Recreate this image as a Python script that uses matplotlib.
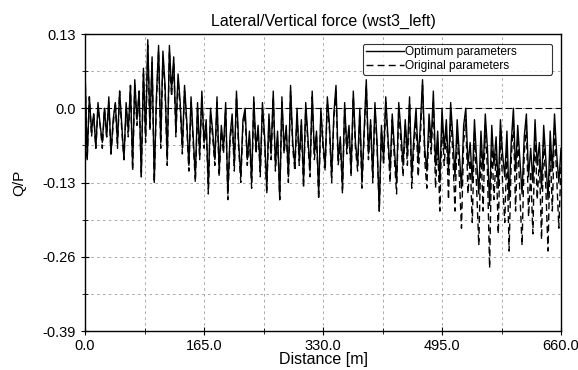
import matplotlib
matplotlib.use('Agg')
import matplotlib.pyplot as plt
import numpy as np
from matplotlib.ticker import MultipleLocator

plt.rcParams['font.family'] = ['Liberation Sans', 'DejaVu Sans']

q_opt = [0.07, -0.09, 0.02, -0.04, -0.01, -0.07, 0.01, -0.03, -0.06, 0.00,
         -0.05, 0.02, -0.08, -0.02, 0.01, -0.06, 0.03, -0.03, -0.09, 0.01,
         -0.04, 0.04, -0.10, 0.05, -0.02, 0.03, -0.12, 0.07, -0.05, 0.12,
         -0.03, 0.09, -0.13, 0.02, 0.11, -0.06, 0.10, 0.04, -0.09, 0.11,
         0.03, 0.09, -0.04, 0.06, 0.01, -0.07, 0.04, -0.02, -0.10, 0.02,
         -0.05, -0.12, 0.01, -0.08, 0.03, -0.06, -0.02, -0.14, 0.00, -0.04,
         -0.09, 0.02, -0.11, -0.03, -0.07, 0.01, -0.15, -0.05, -0.01, -0.10,
         0.03, -0.06, -0.12, -0.02, 0.00, -0.09, -0.04, -0.13, 0.02, -0.07,
         -0.03, -0.11, 0.01, -0.05, -0.14, -0.01, -0.08, 0.03, -0.10, -0.04,
         -0.16, 0.02, -0.07, -0.03, -0.12, 0.04, -0.06, -0.10, 0.00, -0.09,
         -0.02, -0.13, 0.01, -0.05, -0.11, 0.03, -0.08, -0.04, -0.15, 0.00,
         -0.06, -0.10, 0.02, -0.03, -0.12, -0.01, 0.04, -0.09, -0.05, -0.14,
         0.01, -0.07, -0.03, -0.11, 0.03, -0.06, -0.10, 0.00, -0.13, -0.04,
         0.05, -0.08, -0.02, -0.12, 0.01, -0.06, -0.18, -0.03, -0.09, 0.02,
         -0.05, -0.11, -0.01, -0.07, -0.13, 0.01, -0.04, -0.10, -0.02, -0.08,
         0.02, -0.12, -0.05, 0.00, -0.09, -0.03, 0.05, -0.07, -0.11, -0.01,
         -0.06, 0.03, -0.10, -0.04, -0.13, 0.00, -0.07, -0.02, -0.11, 0.01,
         -0.05, -0.12, -0.02, -0.08, -0.14, -0.03, 0.00, -0.10, -0.06, -0.13,
         -0.02, -0.09, -0.15, -0.04, -0.11, -0.01, -0.07, -0.17, -0.03, -0.10,
         -0.05, -0.14, -0.02, -0.08, -0.12, -0.04, -0.16, -0.06, 0.00, -0.11,
         -0.03, -0.09, -0.15, -0.05, -0.01, -0.12, -0.07, -0.13, -0.02, -0.10,
         -0.06, -0.14, -0.03, -0.09, -0.16, -0.04, -0.11, -0.01, -0.08, -0.13,
         -0.07]

q_ori = [0.06, -0.09, 0.02, -0.05, -0.01, -0.07, 0.00, -0.03, -0.07, 0.00,
         -0.05, 0.01, -0.08, -0.03, 0.01, -0.07, 0.03, -0.04, -0.09, 0.00,
         -0.05, 0.04, -0.11, 0.04, -0.03, 0.03, -0.12, 0.06, -0.06, 0.11,
         -0.04, 0.08, -0.13, 0.01, 0.10, -0.07, 0.09, 0.03, -0.10, 0.10,
         0.02, 0.08, -0.05, 0.05, 0.00, -0.08, 0.03, -0.03, -0.11, 0.01,
         -0.06, -0.13, 0.00, -0.09, 0.02, -0.07, -0.03, -0.15, -0.01, -0.05,
         -0.10, 0.01, -0.12, -0.04, -0.08, 0.00, -0.16, -0.06, -0.02, -0.11,
         0.02, -0.07, -0.13, -0.03, -0.01, -0.10, -0.05, -0.14, 0.01, -0.08,
         -0.04, -0.12, 0.00, -0.06, -0.15, -0.02, -0.09, 0.02, -0.11, -0.05,
         -0.16, 0.01, -0.08, -0.04, -0.13, 0.03, -0.07, -0.11, -0.01, -0.10,
         -0.03, -0.14, 0.00, -0.06, -0.12, 0.02, -0.09, -0.05, -0.16, -0.01,
         -0.07, -0.11, 0.01, -0.04, -0.13, -0.02, 0.03, -0.10, -0.06, -0.15,
         0.00, -0.08, -0.04, -0.12, 0.02, -0.07, -0.11, -0.01, -0.14, -0.05,
         0.04, -0.09, -0.03, -0.13, 0.00, -0.07, -0.18, -0.04, -0.10, 0.01,
         -0.06, -0.13, -0.02, -0.09, -0.15, 0.00, -0.06, -0.12, -0.03, -0.10,
         0.01, -0.14, -0.07, -0.02, -0.12, -0.05, 0.04, -0.09, -0.14, -0.03,
         -0.08, 0.01, -0.14, -0.06, -0.18, -0.02, -0.10, -0.04, -0.16, -0.01,
         -0.08, -0.18, -0.04, -0.12, -0.21, -0.06, -0.02, -0.15, -0.09, -0.20,
         -0.04, -0.14, -0.24, -0.07, -0.18, -0.03, -0.11, -0.28, -0.06, -0.16,
         -0.08, -0.22, -0.04, -0.13, -0.20, -0.07, -0.25, -0.09, -0.02, -0.18,
         -0.05, -0.15, -0.24, -0.08, -0.03, -0.19, -0.11, -0.22, -0.04, -0.16,
         -0.09, -0.23, -0.05, -0.14, -0.25, -0.07, -0.18, -0.03, -0.12, -0.21,
         -0.10]

step = 3.0
distance = np.arange(len(q_opt)) * step

xticks = [0.0, 165.0, 330.0, 495.0, 660.0]
yticks = [0.13, 0.0, -0.13, -0.26, -0.39]

fig = plt.figure(figsize=(5.78, 3.70), dpi=100)
ax = fig.add_axes([0.1471, 0.1054, 0.8235, 0.8027])

ax.plot(distance, q_ori, color='k', ls=(0, (5, 3)), lw=1.0, label='Original parameters')
ax.plot(distance, q_opt, color='k', ls='-', lw=1.0, label='Optimum parameters')
ax.axhline(0, color='k', ls=(0, (6, 3)), lw=0.8, zorder=1)

ax.set_xlim(0, 660)
ax.set_ylim(-0.39, 0.13)
ax.set_xticks(xticks)
ax.set_xticklabels(['%.1f' % v for v in xticks])
ax.set_yticks(yticks)
ax.set_yticklabels(['0.13', '0.0', '-0.13', '-0.26', '-0.39'])
ax.xaxis.set_minor_locator(MultipleLocator(82.5))
ax.yaxis.set_minor_locator(MultipleLocator(0.065))
ax.grid(True, which='both', color='0.6', ls=(0, (3, 4)), lw=0.6)
ax.set_axisbelow(True)
ax.tick_params(direction='inout', which='major', length=6, labelsize=10.5)
ax.tick_params(direction='inout', which='minor', length=4)
ax.tick_params(axis='x', which='major', pad=3)
for s in ax.spines.values():
    s.set_linewidth(1.0)

ax.set_title('Lateral/Vertical force (wst3_left)', fontsize=11.5, pad=6)
ax.set_xlabel('Distance [m]', fontsize=11.5, labelpad=-1)
ax.set_ylabel('Q/P', fontsize=11, labelpad=12)

h, l = ax.get_legend_handles_labels()
leg = ax.legend(h[::-1], l[::-1], loc='upper left', mode='expand', fontsize=8.6,
                frameon=True, fancybox=True, edgecolor='k', handlelength=3.2,
                borderpad=0.25, labelspacing=0.1, handletextpad=0.1,
                bbox_to_anchor=(0.584, 0.968, 0.397, 0.0), borderaxespad=0)
leg.get_frame().set_linewidth(0.8)

fig.savefig('out.png', dpi=100)
